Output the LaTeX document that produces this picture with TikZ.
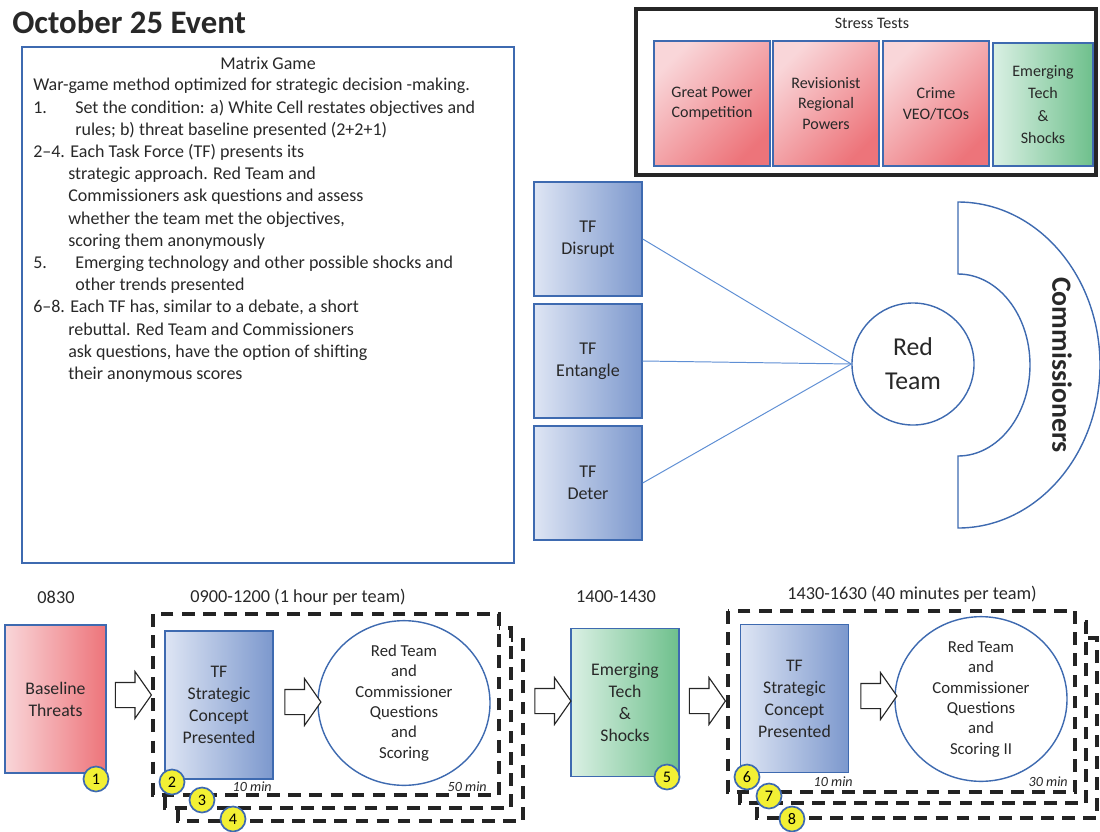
\documentclass[tikz,border=0pt]{standalone}
\usepackage{fontspec}
\setmainfont{Carlito}
\usetikzlibrary{shapes.geometric,shapes.arrows}
\definecolor{bordblue}{RGB}{62,106,176}
\definecolor{tfleft}{RGB}{222,229,244}
\definecolor{tfright}{RGB}{124,152,205}
\definecolor{redleft}{RGB}{249,214,217}
\definecolor{redright}{RGB}{237,116,122}
\definecolor{grleft}{RGB}{218,240,228}
\definecolor{grright}{RGB}{110,192,140}
\definecolor{badgeyellow}{RGB}{242,240,52}
\definecolor{linkblue}{RGB}{95,143,212}
\definecolor{txtgray}{RGB}{40,40,40}
\definecolor{dashgray}{RGB}{35,35,35}

\begin{document}
\begin{tikzpicture}[%
  x=0.025cm, y=-0.025cm,
  every node/.style={text=txtgray, inner sep=0pt},
  colbox/.style={draw=bordblue, line width=1pt, align=center},
  tfbox/.style={colbox, left color=tfleft, right color=tfright},
  redbox/.style={colbox, left color=redleft, right color=redright},
  greenbox/.style={colbox, left color=grleft, right color=grright},
  stressbox/.style={redbox, shading angle=45, minimum height=3.125cm,
    font=\fontsize{11.4}{14.7}\selectfont},
  teamtf/.style={tfbox, minimum width=2.7cm, minimum height=2.85cm,
    font=\fontsize{12.8}{15.6}\selectfont},
  stepbox/.style={minimum width=2.7cm, minimum height=3.7cm,
    font=\fontsize{12.6}{15.6}\selectfont},
  scoring/.style={ellipse, draw=bordblue, line width=1pt, fill=white, align=center,
    minimum width=4.3cm, minimum height=4cm, font=\fontsize{11.9}{14.5}\selectfont},
  dashbox/.style={draw=dashgray, line width=2.2pt, dash pattern=on 9pt off 6pt, fill=white},
  blockarrow/.style={single arrow, draw=black!85, fill=white, line width=0.8pt,
    minimum height=0.9cm, inner xsep=0pt, inner ysep=0.3cm,
    single arrow head extend=0.27cm, single arrow tip angle=110},
  badge/.style={circle, draw=bordblue, fill=badgeyellow, line width=1.2pt,
    minimum size=0.625cm, text=black, font=\fontsize{11.5}{12}\selectfont},
  timelabel/.style={font=\fontsize{13}{15}\selectfont},
  minlabel/.style={anchor=east, font=\itshape\fontsize{10}{12}\selectfont},
  link/.style={draw=linkblue, line width=0.7pt},
]
  \useasboundingbox (0,0) rectangle (1100,831);
  \clip (0,0) rectangle (1100,831);

  % title and matrix game text
  \node[anchor=west, font=\bfseries\fontsize{23.3}{26}\selectfont] (title) at (12,22) {October 25 Event};
  \draw[draw=bordblue, line width=1.2pt] (22,47) rectangle (514,563);
  \node[font=\fontsize{12.8}{15.8}\selectfont] (mgtitle) at (268,63) {Matrix Game};
  \node[anchor=north west, align=left, font=\fontsize{12.8}{15.8}\selectfont] (mgbody) at (33,78) {%
    War-game method optimized for strategic decision -making.\\
    \makebox[1.05cm][l]{1.}Set the condition: a) White Cell restates objectives and\\
    \hspace*{1.05cm}rules; b) threat baseline presented (2+2+1)\\
    2--4. Each Task Force (TF) presents its\\
    \hspace*{0.875cm}strategic approach. Red Team and\\
    \hspace*{0.875cm}Commissioners ask questions and assess\\
    \hspace*{0.875cm}whether the team met the objectives,\\
    \hspace*{0.875cm}scoring them anonymously\\
    \makebox[1.05cm][l]{5.}Emerging technology and other possible shocks and\\
    \hspace*{1.05cm}other trends presented\\
    6--8. Each TF has, similar to a debate, a short\\
    \hspace*{0.875cm}rebuttal. Red Team and Commissioners\\
    \hspace*{0.875cm}ask questions, have the option of shifting\\
    \hspace*{0.875cm}their anonymous scores};

  % stress tests
  \draw[draw=black!85, line width=2.2pt] (636,9) rectangle (1096,175);
  \node[font=\fontsize{11.4}{14}\selectfont] (sttitle) at (872,23) {Stress Tests};
  \node[stressbox, minimum width=2.9cm] (gpc) at (712,103.5) {Great Power\\Competition};
  \node[stressbox, minimum width=2.65cm] (rev) at (826,103.5) {Revisionist\\Regional\\Powers};
  \node[stressbox, minimum width=2.65cm] (crime) at (936,103.5) {Crime\\VEO/TCOs};
  \node[greenbox, minimum width=2.5cm, minimum height=3.075cm,
    font=\fontsize{11.4}{15.8}\selectfont] (emtech) at (1043,104.5) {Emerging\\Tech\\\&\\Shocks};

  % task forces, red team, commissioners
  \node[teamtf] (tfdis) at (588,239) {TF\\Disrupt};
  \node[teamtf] (tfent) at (588,361) {TF\\Entangle};
  \node[teamtf] (tfdet) at (588,483) {TF\\Deter};
  \node[circle, draw=bordblue, line width=1pt, minimum size=3.05cm, align=center,
    font=\fontsize{18.3}{24.2}\selectfont] (rt) at (913,364) {Red\\Team};
  \draw[link] (tfdis.east) -- (rt.west);
  \draw[link] (tfent.east) -- (rt.west);
  \draw[link] (tfdet.east) -- (rt.west);
  \draw[draw=bordblue, line width=1pt] (958,202)
    arc[start angle=-90, end angle=90, x radius=142, y radius=163] -- (958,456)
    arc[start angle=90, end angle=-90, x radius=72, y radius=91] -- cycle;
  \node[rotate=-90, font=\bfseries\fontsize{19.8}{22}\selectfont] (comm) at (1062,365) {Commissioners};

  % schedule
  \node[timelabel] (t0830) at (56,597) {0830};
  \node[timelabel] (t0900) at (298,597) {0900-1200 (1 hour per team)};
  \node[timelabel] (t1400) at (616,597) {1400-1430};
  \node[timelabel] (t1430) at (912,594) {1430-1630 (40 minutes per team)};

  \draw[dashbox] (178,640) rectangle (523,821);
  \draw[dashbox] (165,628) rectangle (511,808);
  \draw[dashbox] (153,614) rectangle (499,795);
  \draw[dashbox] (757,638) rectangle (1097,818);
  \draw[dashbox] (740,622) rectangle (1086,803);
  \draw[dashbox] (728,611) rectangle (1075,792);

  \node[redbox, stepbox, minimum width=2.525cm] (base) at (55.5,699) {Baseline\\Threats};
  \node[tfbox, stepbox] (tfsc) at (219,705) {TF\\Strategic\\Concept\\Presented};
  \node[scoring] (rcq) at (404,703) {Red Team\\and\\Commissioner\\Questions\\and\\Scoring};
  \node[greenbox, stepbox] (shock) at (625,702.5) {Emerging\\Tech\\\&\\Shocks};
  \node[tfbox, stepbox] (tfre) at (794.5,698.5) {TF\\Strategic\\Concept\\Presented};
  \node[scoring, minimum height=3.95cm] (rcqii) at (981,699) {Red Team\\and\\Commissioner\\Questions\\and\\Scoring II};

  \node[blockarrow] (ar1) at (129,695) {};
  \node[blockarrow] (ar2) at (298.5,702) {};
  \node[blockarrow] (ar3) at (548.5,701) {};
  \node[blockarrow] (ar4) at (703,701) {};
  \node[blockarrow] (ar5) at (874.5,696) {};

  \node[minlabel] (m10a) at (272,787) {10 min};
  \node[minlabel] (m50) at (487,787) {50 min};
  \node[minlabel] (m10b) at (853,782) {10 min};
  \node[minlabel] (m30) at (1068,782) {30 min};

  \node[badge] (b1) at (96,779) {1};
  \node[badge] (b2) at (172,782) {2};
  \node[badge] (b3) at (202,800) {3};
  \node[badge] (b4) at (233,819) {4};
  \node[badge] (b5) at (667,777) {5};
  \node[badge] (b6) at (747,777) {6};
  \node[badge] (b7) at (769,796) {7};
  \node[badge] (b8) at (792,819) {8};

\end{tikzpicture}
\end{document}
